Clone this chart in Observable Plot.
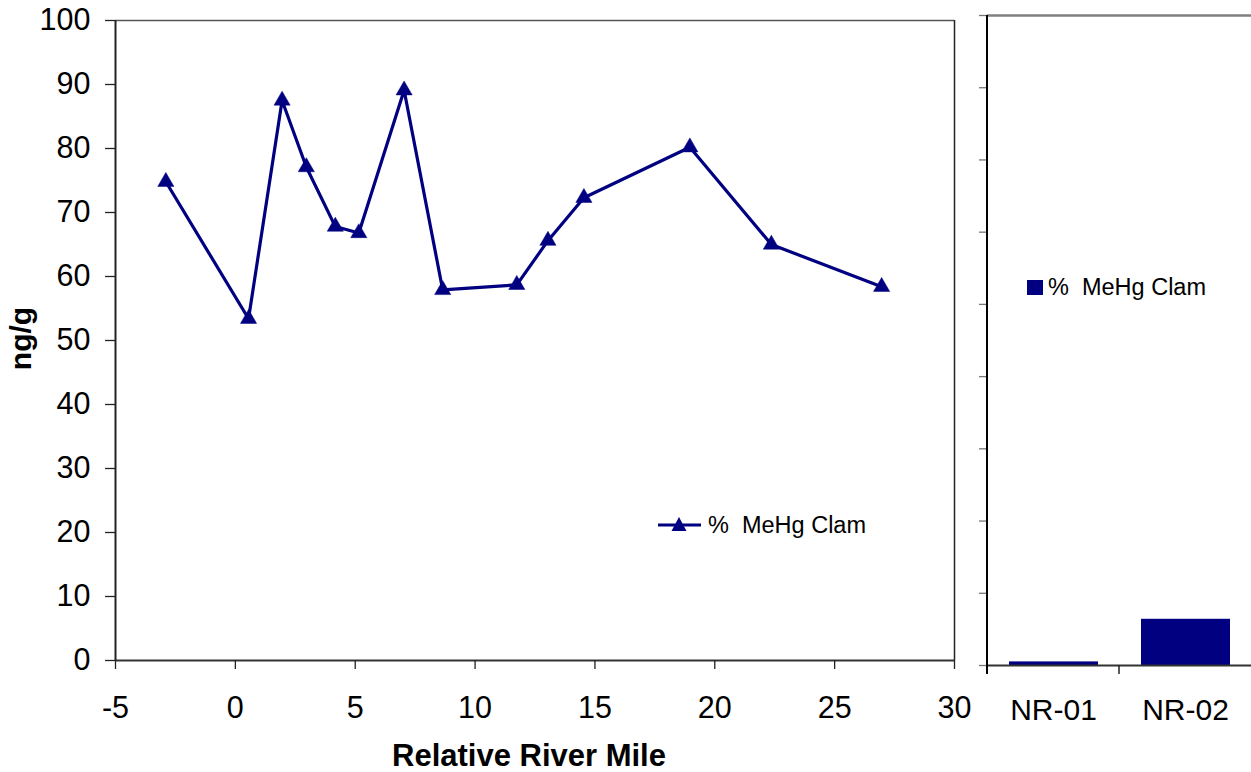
<!DOCTYPE html>
<html>
<head>
<meta charset="utf-8">
<script src="https://cdn.jsdelivr.net/npm/d3@7"></script>
<script src="https://cdn.jsdelivr.net/npm/@observablehq/plot@0.6"></script>
<style>
  html, body { margin: 0; padding: 0; background: #fff; }
  #wrap { position: relative; width: 1251px; height: 772px; overflow: hidden; font-family: "Liberation Sans", Arial, sans-serif; }
  #left { position: absolute; left: 0; top: 0; }
  #right { position: absolute; left: 975px; top: 0; }
  .legend { position: absolute; display: flex; align-items: center; font-size: 23.5px; color: #000; white-space: pre; }
</style>
</head>
<body>
<div id="wrap">
  <div id="left"></div>
  <div id="right"></div>
  <div class="legend" id="legL" style="left:657px; top:510px;">
    <svg width="46" height="30" style="margin-right:5px">
      <line x1="1" y1="15" x2="44" y2="15" stroke="#000080" stroke-width="3.2"></line>
      <path d="M22,7 L29.5,21 L14.5,21 Z" fill="#000080"></path>
    </svg><span>%  MeHg Clam</span>
  </div>
  <div class="legend" id="legR" style="left:1027px; top:272px;">
    <svg width="17" height="30" style="margin-right:4px">
      <rect x="0" y="8" width="16" height="15" fill="#000080"></rect>
    </svg><span>%  MeHg Clam</span>
  </div>
</div>
<script>
// ---- data ----
const riverMile = [-2.9, 0.55, 1.95, 2.96, 4.17, 5.15, 7.04, 8.65, 11.74, 13.04, 14.54, 18.96, 22.36, 26.96];
const pctMeHg   = [74.8, 53.4, 87.5, 77.1, 67.8, 66.8, 89.1, 57.9, 58.7, 65.6, 72.3, 80.2, 65.0, 58.4];
const xTicks = [-5, 0, 5, 10, 15, 20, 25, 30];
const yTicks = [0, 10, 20, 30, 40, 50, 60, 70, 80, 90, 100];
const refSites = ["NR-01", "NR-02"];
const refValues = [0.5, 6.4];
const refYTicks = [0, 10, 20, 30, 40, 50, 60, 70, 80, 90];

const navy = "#000080";
const font = "'Liberation Sans', Arial, sans-serif";

const lineData = riverMile.map((m, i) => ({mile: m, value: pctMeHg[i]}));
const barData = refSites.map((s, i) => ({site: s, value: refValues[i]}));

// ---- left panel ----
const left = Plot.plot({
  width: 975,
  height: 772,
  marginLeft: 115,
  marginRight: 21,
  marginTop: 20,
  marginBottom: 112,
  style: {fontFamily: font, fontSize: "30.5px", color: "#000", background: "transparent"},
  x: {domain: [-5, 30], label: null},
  y: {domain: [0, 100], label: null},
  marks: [
    Plot.ruleY([100], {stroke: "#555", strokeWidth: 1.5}),
    Plot.ruleX([30], {stroke: "#222", strokeWidth: 1.5}),
    Plot.ruleY([0], {stroke: "#333", strokeWidth: 2}),
    Plot.ruleX([-5], {stroke: "#222", strokeWidth: 2}),
    Plot.axisY({ticks: yTicks, tickSize: 10, tickPadding: 15, label: null, stroke: "#222", strokeWidth: 1.3}),
    Plot.axisX({ticks: xTicks, tickSize: 9, tickPadding: 26.5, tickFormat: d => String(d), label: null, stroke: "#222", strokeWidth: 1.3}),
    Plot.line(lineData, {x: "mile", y: "value", stroke: navy, strokeWidth: 3.2}),
    Plot.dot(lineData, {x: "mile", y: "value", symbol: "triangle", r: 6, fill: navy, stroke: navy, strokeWidth: 0.5}),
    Plot.text(["Relative River Mile"], {frameAnchor: "bottom", dx: -6, dy: 96, fontWeight: "bold", fontSize: 31, lineAnchor: "middle"}),
    Plot.text(["ng/g"], {frameAnchor: "left", dx: -94, dy: -2, rotate: -90, textAnchor: "middle", fontWeight: "bold", fontSize: 30})
  ]
});
document.getElementById("left").appendChild(left);

// ---- right panel ----
const right = Plot.plot({
  width: 276,
  height: 772,
  marginLeft: 12,
  marginRight: 0,
  marginTop: 15,
  marginBottom: 107,
  style: {fontFamily: font, fontSize: "30px", color: "#000", background: "transparent"},
  x: {domain: refSites, padding: 0, label: null},
  y: {domain: [0, 90], label: null},
  marks: [
    Plot.barY(barData, {x: "site", y: "value", fill: navy, insetLeft: 22, insetRight: 21}),
    Plot.ruleY([0], {stroke: "#333", strokeWidth: 2}),
    Plot.ruleY([90], {stroke: "#808080", strokeWidth: 2.5}),
    Plot.axisY({ticks: refYTicks, tickSize: 8, tickFormat: () => "", label: null, stroke: "#777", strokeWidth: 1.3}),
    Plot.axisX({tickSize: 0, tickPadding: 33.5, label: null}),
    (index, scales, values, dims) => {
      const g = d3.create("svg:g");
      const bottom = dims.height - dims.marginBottom;
      const x0 = scales.x("NR-02");
      g.append("line")
        .attr("x1", dims.marginLeft).attr("x2", dims.marginLeft)
        .attr("y1", dims.marginTop).attr("y2", bottom + 9)
        .attr("stroke", "#000").attr("stroke-width", 2);
      g.append("line")
        .attr("x1", x0).attr("x2", x0)
        .attr("y1", bottom).attr("y2", bottom + 9)
        .attr("stroke", "#222").attr("stroke-width", 1.5);
      return g.node();
    }
  ]
});
document.getElementById("right").appendChild(right);
</script>
</body>
</html>
